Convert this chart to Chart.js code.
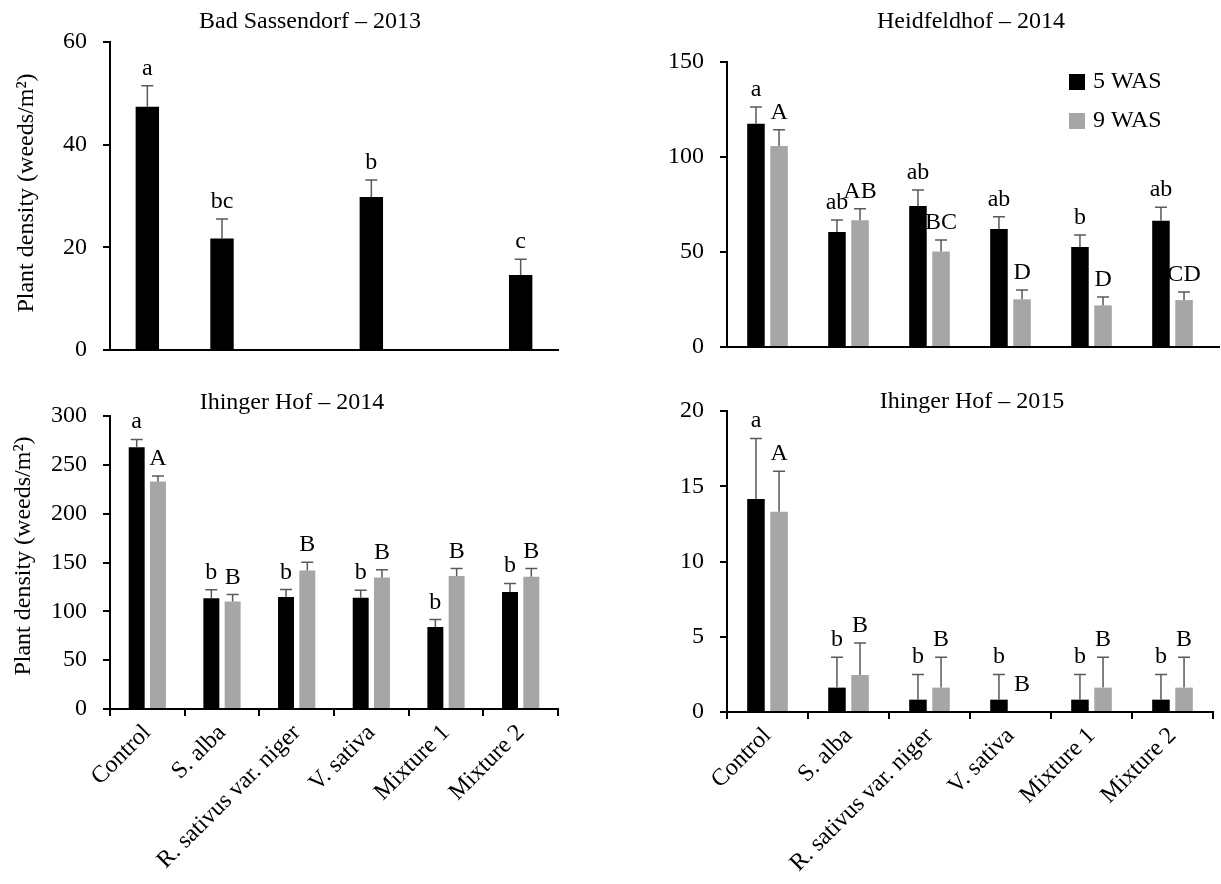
<!DOCTYPE html>
<html>
<head>
<meta charset="utf-8">
<script src="https://cdn.jsdelivr.net/npm/chart.js@4.4.1/dist/chart.umd.min.js"></script>
<style>
  html, body { margin: 0; padding: 0; background: #fff; }
  #wrap { position: relative; width: 1221px; height: 884px; }
  #wrap canvas { position: absolute; left: 0; top: 0; }
</style>
</head>
<body>
<div id="wrap">
  <canvas id="bs13" width="1221" height="884"></canvas>
  <canvas id="hf14" width="1221" height="884"></canvas>
  <canvas id="ih14" width="1221" height="884"></canvas>
  <canvas id="ih15" width="1221" height="884"></canvas>
</div>
<script>
// Categories and series names
const categories = ['Control', 'S. alba', 'R. sativus var. niger', 'V. sativa', 'Mixture 1', 'Mixture 2'];
const seriesNames = ['5 WAS', '9 WAS'];

// Bad Sassendorf - 2013 (5 WAS only)
const bs13Mean = [47.4, 21.7, null, 29.8, null, 14.6];
const bs13Se = [4.1, 3.8, null, 3.3, null, 3.1];
const bs13Letters = ['a', 'bc', '', 'b', '', 'c'];
const bs13Ticks = [0, 20, 40, 60];

// Heidfeldhof - 2014
const hf14Mean5 = [117.5, 60.5, 74.2, 62.1, 52.6, 66.5];
const hf14Se5 = [8.8, 6.3, 8.4, 6.5, 6.3, 7.0];
const hf14Letters5 = ['a', 'ab', 'ab', 'ab', 'b', 'ab'];
const hf14Mean9 = [105.8, 66.7, 50.2, 25.1, 21.9, 24.7];
const hf14Se9 = [8.6, 6.1, 6.1, 4.9, 4.4, 4.2];
const hf14Letters9 = ['A', 'AB', 'BC', 'D', 'D', 'CD'];
const hf14Ticks = [0, 50, 100, 150];

// Ihinger Hof - 2014
const ih14Mean5 = [267.9, 113.4, 114.8, 113.8, 84.0, 119.9];
const ih14Se5 = [8.1, 8.6, 7.5, 7.8, 7.6, 8.6];
const ih14Letters5 = ['a', 'b', 'b', 'b', 'b', 'b'];
const ih14Mean9 = [233.0, 110.0, 141.8, 134.6, 136.3, 135.3];
const ih14Se9 = [5.5, 7.2, 8.5, 7.9, 7.5, 8.5];
const ih14Letters9 = ['A', 'B', 'B', 'B', 'B', 'B'];
const ih14Ticks = [0, 50, 100, 150, 200, 250, 300];

// Ihinger Hof - 2015
const ih15Mean5 = [14.15, 1.62, 0.82, 0.82, 0.82, 0.82];
const ih15Se5 = [4.03, 2.02, 1.68, 1.68, 1.68, 1.68];
const ih15Letters5 = ['a', 'b', 'b', 'b', 'b', 'b'];
const ih15Mean9 = [13.3, 2.46, 1.62, 0, 1.62, 1.62];
const ih15Se9 = [2.7, 2.13, 2.02, null, 2.02, 2.02];
const ih15Letters9 = ['A', 'B', 'B', 'B', 'B', 'B'];
const ih15Ticks = [0, 5, 10, 15, 20];

const W = 1221, H = 884;
const Y_W = 60;
const FONT = '"Liberation Serif", "Times New Roman", serif';
const BLACK = '#000000';
const GREY = '#a6a6a6';
const ERR = '#595959';

// draws error bars, letters, titles and legend
const decor = {
  id: 'decor',
  afterDatasetsDraw(chart, args, o) {
    const ctx = chart.ctx;
    const y = chart.scales.y;
    const area = chart.chartArea;
    ctx.save();
    ctx.font = '24px ' + FONT;
    ctx.fillStyle = '#000';
    ctx.textAlign = 'center';
    ctx.textBaseline = 'alphabetic';
    chart.data.datasets.forEach((ds, di) => {
      const meta = chart.getDatasetMeta(di);
      meta.data.forEach((bar, i) => {
        const v = ds.data[i];
        if (v === null) return;
        const se = ds.se[i];
        let top = y.getPixelForValue(v);
        if (se !== null) {
          const yt = y.getPixelForValue(v + se);
          ctx.strokeStyle = ERR;
          ctx.lineWidth = 1.5;
          ctx.beginPath();
          ctx.moveTo(bar.x, top);
          ctx.lineTo(bar.x, yt);
          ctx.moveTo(bar.x - 6, yt);
          ctx.lineTo(bar.x + 6, yt);
          ctx.stroke();
          top = yt;
        } else {
          top -= 10;
        }
        if (ds.letters[i]) ctx.fillText(ds.letters[i], bar.x, top - 11);
      });
    });

    // axis line running on past the last category
    if (o.extendTo) {
      const yb = chart.scales.x.top;
      ctx.strokeStyle = '#000';
      ctx.lineWidth = 2;
      ctx.beginPath();
      ctx.moveTo(area.right - 2, yb);
      ctx.lineTo(o.extendTo, yb);
      ctx.stroke();
    }

    // panel title
    ctx.textBaseline = 'middle';
    ctx.fillText(o.title, o.titleX, o.titleY);

    // y axis title
    if (o.yTitle) {
      ctx.save();
      ctx.translate(o.yTitleX, o.yTitleY);
      ctx.rotate(-Math.PI / 2);
      ctx.fillText('Plant density (weeds/m²)', 0, 0);
      ctx.restore();
    }

    // legend
    if (o.legend) {
      ctx.textAlign = 'left';
      chart.data.datasets.forEach((ds, di) => {
        const cy = o.legendY + di * 39;
        ctx.fillStyle = ds.backgroundColor;
        ctx.fillRect(o.legendX, cy - 8, 16, 16);
        ctx.fillStyle = '#000';
        ctx.fillText(ds.label, o.legendX + 24, cy);
      });
    }
    ctx.restore();
  }
};

function makePanel(id, p) {
  const datasets = p.series.map((s, k) => ({
    label: seriesNames[k],
    data: s.mean,
    se: s.se,
    letters: s.letters,
    backgroundColor: k === 0 ? BLACK : GREY,
    borderWidth: 0,
    barPercentage: p.barPct,
    categoryPercentage: p.catPct
  }));
  new Chart(document.getElementById(id), {
    type: 'bar',
    data: { labels: categories, datasets: datasets },
    options: {
      responsive: false,
      animation: false,
      devicePixelRatio: 1,
      layout: {
        padding: {
          left: p.area.left - Y_W,
          top: p.area.top,
          right: W - p.area.right,
          bottom: H - p.area.bottom - p.xH
        }
      },
      plugins: {
        legend: { display: false },
        tooltip: { enabled: false },
        decor: p.decor
      },
      scales: {
        x: {
          ticks: {
            display: p.xLabels,
            autoSkip: false,
            minRotation: 45,
            maxRotation: 45,
            padding: 3,
            color: '#000',
            font: { family: FONT, size: 24 }
          },
          grid: {
            display: p.xLabels,
            drawOnChartArea: false,
            tickLength: 7,
            lineWidth: 2,
            color: '#000'
          },
          border: { color: '#000', width: 2 },
          afterFit(s) { s.height = p.xH; s.paddingLeft = 0; s.paddingRight = 0; }
        },
        y: {
          min: 0,
          max: p.ticks[p.ticks.length - 1],
          afterBuildTicks(s) { s.ticks = p.ticks.map(v => ({ value: v })); },
          ticks: {
            padding: 16,
            color: '#000',
            font: { family: FONT, size: 24 }
          },
          grid: {
            drawOnChartArea: false,
            tickLength: 7,
            lineWidth: 2,
            color: '#000'
          },
          border: { color: '#000', width: 2 },
          afterFit(s) { s.width = Y_W; s.paddingTop = 0; s.paddingBottom = 0; }
        }
      }
    },
    plugins: [decor]
  });
}

makePanel('bs13', {
  area: { left: 110, top: 42, right: 558, bottom: 350 },
  xH: 2, xLabels: false, ticks: bs13Ticks, barPct: 0.55, catPct: 0.57,
  series: [{ mean: bs13Mean, se: bs13Se, letters: bs13Letters }],
  decor: { title: 'Bad Sassendorf – 2013', titleX: 310, titleY: 22, yTitle: true, yTitleX: 27, yTitleY: 193 }
});

makePanel('hf14', {
  area: { left: 727, top: 62, right: 1213, bottom: 347 },
  xH: 2, xLabels: false, ticks: hf14Ticks, barPct: 0.76, catPct: 0.57,
  series: [
    { mean: hf14Mean5, se: hf14Se5, letters: hf14Letters5 },
    { mean: hf14Mean9, se: hf14Se9, letters: hf14Letters9 }
  ],
  decor: { title: 'Heidfeldhof – 2014', titleX: 971, titleY: 22, legend: true, legendX: 1069, legendY: 82, extendTo: 1220 }
});

makePanel('ih14', {
  area: { left: 110, top: 416, right: 558, bottom: 709 },
  xH: 172, xLabels: true, ticks: ih14Ticks, barPct: 0.75, catPct: 0.57,
  series: [
    { mean: ih14Mean5, se: ih14Se5, letters: ih14Letters5 },
    { mean: ih14Mean9, se: ih14Se9, letters: ih14Letters9 }
  ],
  decor: { title: 'Ihinger Hof – 2014', titleX: 292, titleY: 403, yTitle: true, yTitleX: 24, yTitleY: 556 }
});

makePanel('ih15', {
  area: { left: 727, top: 411, right: 1213, bottom: 712 },
  xH: 170, xLabels: true, ticks: ih15Ticks, barPct: 0.76, catPct: 0.57,
  series: [
    { mean: ih15Mean5, se: ih15Se5, letters: ih15Letters5 },
    { mean: ih15Mean9, se: ih15Se9, letters: ih15Letters9 }
  ],
  decor: { title: 'Ihinger Hof – 2015', titleX: 972, titleY: 402 }
});
</script>
</body>
</html>
